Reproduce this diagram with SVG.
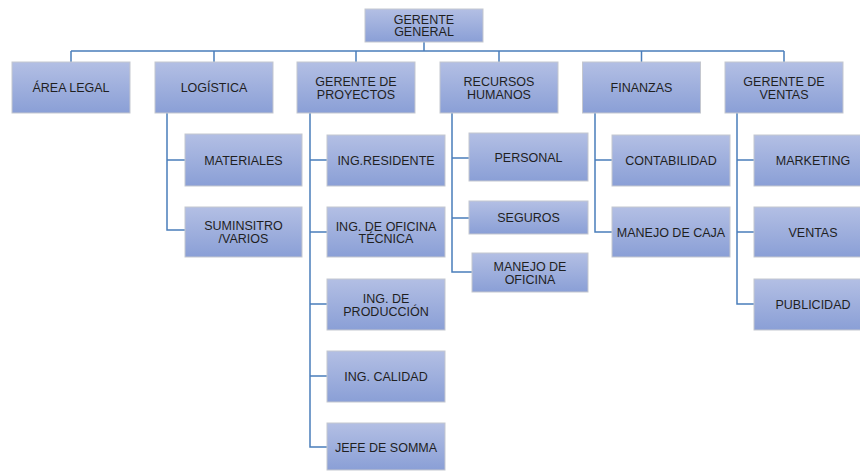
<svg xmlns="http://www.w3.org/2000/svg" width="860" height="471" viewBox="0 0 860 471">
<defs>
<linearGradient id="g" x1="0" y1="0" x2="0" y2="1">
<stop offset="0" stop-color="#b3bfe4"/>
<stop offset="1" stop-color="#8a9fd6"/>
</linearGradient>
<style>
.b{fill:url(#g);stroke:#c4c7cf;stroke-width:1}
.t{font-family:"Liberation Sans",Arial,sans-serif;font-size:12.5px;fill:#1f1f1f;text-anchor:middle}
.c{fill:none;stroke:#4a7ebb;stroke-width:1.5}
</style>
</defs>
<rect width="860" height="471" fill="#ffffff"/>
<g id="connectors" class="c">
<path d="M424 42V51M71 51H784M71 51V62M214 51V62M356 51V62M499 51V62M641.5 51V62M784 51V62"/>
<path d="M167 113V230H185M167 160H185"/>
<path d="M310 113V447H327M310 160H327M310 232H327M310 304H327M310 376H327"/>
<path d="M452 113V272H472M452 158H469M452 218H469"/>
<path d="M595 113V232H612M595 160H612"/>
<path d="M737 113V304H754M737 160H754M737 232H754"/>
</g>
<g id="gerente-general"><rect class="b" x="365" y="9" width="118" height="33"/><text class="t" x="424" y="23.5">GERENTE</text><text class="t" x="424" y="36">GENERAL</text></g>
<g id="area-legal"><rect class="b" x="12" y="62" width="118" height="51"/><text class="t" x="71" y="92.2">ÁREA LEGAL</text></g>
<g id="logistica"><rect class="b" x="155" y="62" width="118" height="51"/><text class="t" x="214" y="92.2">LOGÍSTICA</text></g>
<g id="gerente-proyectos"><rect class="b" x="297" y="62" width="118" height="51"/><text class="t" x="356" y="86">GERENTE DE</text><text class="t" x="356" y="98.5">PROYECTOS</text></g>
<g id="recursos-humanos"><rect class="b" x="440" y="62" width="118" height="51"/><text class="t" x="499" y="86">RECURSOS</text><text class="t" x="499" y="98.5">HUMANOS</text></g>
<g id="finanzas"><rect class="b" x="582.5" y="62" width="118" height="51"/><text class="t" x="641.5" y="92.2">FINANZAS</text></g>
<g id="gerente-ventas"><rect class="b" x="725" y="62" width="118" height="51"/><text class="t" x="784" y="86">GERENTE DE</text><text class="t" x="784" y="98.5">VENTAS</text></g>
<g id="materiales"><rect class="b" x="185" y="134" width="117" height="52"/><text class="t" x="243.5" y="164.7">MATERIALES</text></g>
<g id="suministro"><rect class="b" x="185" y="207" width="117" height="50"/><text class="t" x="243.5" y="230">SUMINSITRO</text><text class="t" x="243.5" y="242.8">/VARIOS</text></g>
<g id="ing-residente"><rect class="b" x="327" y="135" width="118" height="51"/><text class="t" x="386" y="165">ING.RESIDENTE</text></g>
<g id="ing-oficina-tecnica"><rect class="b" x="327" y="207" width="118" height="50"/><text class="t" x="386" y="230.5">ING. DE OFICINA</text><text class="t" x="386" y="243">TÉCNICA</text></g>
<g id="ing-produccion"><rect class="b" x="327" y="279" width="118" height="51"/><text class="t" x="386" y="303">ING. DE</text><text class="t" x="386" y="315.5">PRODUCCIÓN</text></g>
<g id="ing-calidad"><rect class="b" x="327" y="351" width="118" height="51"/><text class="t" x="386" y="381">ING. CALIDAD</text></g>
<g id="jefe-somma"><rect class="b" x="327" y="423" width="118" height="47"/><text class="t" x="386" y="452">JEFE DE SOMMA</text></g>
<g id="personal"><rect class="b" x="469" y="133" width="119" height="48"/><text class="t" x="528.5" y="161.7">PERSONAL</text></g>
<g id="seguros"><rect class="b" x="469" y="201" width="119" height="33"/><text class="t" x="528.5" y="222.2">SEGUROS</text></g>
<g id="manejo-oficina"><rect class="b" x="472" y="253" width="116" height="39"/><text class="t" x="530" y="271">MANEJO DE</text><text class="t" x="530" y="283.5">OFICINA</text></g>
<g id="contabilidad"><rect class="b" x="612" y="135" width="118" height="51"/><text class="t" x="671" y="165">CONTABILIDAD</text></g>
<g id="manejo-caja"><rect class="b" x="612" y="207" width="118" height="50"/><text class="t" x="671" y="236.5">MANEJO DE CAJA</text></g>
<g id="marketing"><rect class="b" x="754" y="135" width="118" height="51"/><text class="t" x="813" y="165">MARKETING</text></g>
<g id="ventas"><rect class="b" x="754" y="207" width="118" height="50"/><text class="t" x="813" y="236.5">VENTAS</text></g>
<g id="publicidad"><rect class="b" x="754" y="279" width="118" height="51"/><text class="t" x="813" y="309">PUBLICIDAD</text></g>
</svg>
